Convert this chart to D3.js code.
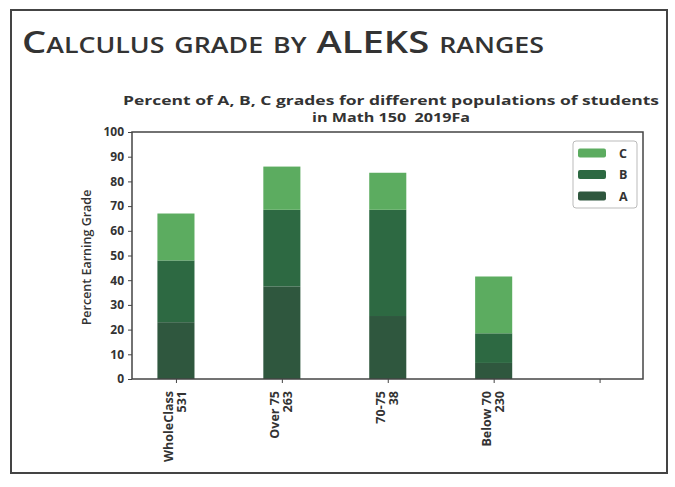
<!DOCTYPE html>
<html>
<head>
<meta charset="utf-8">
<script src="https://cdn.jsdelivr.net/npm/d3@7"></script>
<style>
  body { margin: 0; background: #fff; }
  svg text { fill: #333; }
</style>
</head>
<body>
<div id="chart"></div>
<script>
// data
const groups = ["WholeClass\n531", "Over 75\n263", "70-75\n38", "Below 70\n230", ""];
const gradeA = [23, 37.5, 25.5, 6.5, 0];
const gradeB = [25, 31, 43, 12, 0];
const gradeC = [19, 17.5, 15, 23, 0];
const yTicks = [0, 10, 20, 30, 40, 50, 60, 70, 80, 90, 100];
const grades = ["A", "B", "C"];
const colors = { A: "#2f573e", B: "#2d6942", C: "#5cac60" };

const width = 675, height = 487;
const plot = { left: 132, right: 643, top: 132, bottom: 379 };
const sans = "'Open Sans', 'DejaVu Sans', sans-serif";

let svg = d3.select("#chart").append("svg")
    .attr("width", width)
    .attr("height", height)

// outer slide frame
svg.append("rect")
    .attr("x", 11).attr("y", 10)
    .attr("width", 656).attr("height", 463)
    .attr("fill", "none")
    .attr("stroke", "#444")
    .attr("stroke-width", 2)

// slide title
svg.append("text")
    .attr("x", 22).attr("y", 53)
    .style("font-family", sans)
    .style("font-variant", "small-caps")
    .style("font-size", "30px")
    .style("font-weight", "600")
    .attr("textLength", 522)
    .attr("lengthAdjust", "spacingAndGlyphs")
    .text("Calculus grade by ALEKS ranges")

// chart title
const titleLines = ["Percent of A, B, C grades for different populations of students", "in Math 150\u00a0\u00a02019Fa"];
const titleWidths = [536, 158];
svg.append("g").selectAll("text")
    .data(titleLines)
    .enter()
    .append("text")
    .attr("x", 391)
    .attr("y", (d, i) => 105 + i * 17)
    .attr("text-anchor", "middle")
    .attr("textLength", (d, i) => titleWidths[i])
    .attr("lengthAdjust", "spacingAndGlyphs")
    .style("font-family", sans)
    .style("font-size", "12.5px")
    .style("font-weight", "bold")
    .text(d => d)

let x = d3.scaleLinear().domain([-0.415, 4.41]).range([plot.left, plot.right]);
let y = d3.scaleLinear().domain([0, 100]).range([plot.bottom, plot.top]);
const barW = x(0.35) - x(0);

// stack the series
const rows = groups.map((g, i) => ({ i: i, A: gradeA[i], B: gradeB[i], C: gradeC[i] }));
const stacked = d3.stack().keys(grades)(rows);

svg.append("g").selectAll("g")
    .data(stacked)
    .enter()
    .append("g")
    .attr("fill", d => colors[d.key])
    .selectAll("rect")
    .data(d => d)
    .enter()
    .append("rect")
    .attr("x", d => x(d.data.i) - barW / 2)
    .attr("width", barW)
    .attr("y", d => y(d[1]))
    .attr("height", d => y(d[0]) - y(d[1]))

// y axis
let yAxis = svg.append("g")
    .attr("transform", `translate(${plot.left},0)`)
    .call(d3.axisLeft(y).tickValues(yTicks).tickSize(4).tickPadding(4))
yAxis.select(".domain").remove()
yAxis.selectAll("text")
    .style("font-family", sans)
    .style("font-size", "12px")
    .style("font-weight", "bold")
    .attr("fill", "#333")
yAxis.selectAll("line").attr("stroke", "#444")

// x axis
let xAxis = svg.append("g")
    .attr("transform", `translate(0,${plot.bottom})`)
    .call(d3.axisBottom(x).tickValues(d3.range(groups.length)).tickSize(4).tickFormat(""))
xAxis.select(".domain").remove()
xAxis.selectAll("line").attr("stroke", "#444")

// rotated two-line category labels
groups.forEach((g, i) => {
  const lines = g.split("\n");
  const t = svg.append("text")
      .attr("transform", `translate(${x(i)},${plot.bottom + 12}) rotate(-90)`)
      .attr("text-anchor", "end")
      .style("font-family", sans)
      .style("font-size", "12.5px")
      .style("font-weight", "bold")
  lines.forEach((l, j) => {
    t.append("tspan")
      .attr("x", 0)
      .attr("y", (j - (lines.length - 1) / 2) * 13 + 4)
      .text(l)
  })
})

// plot frame
svg.append("rect")
    .attr("x", plot.left).attr("y", plot.top)
    .attr("width", plot.right - plot.left)
    .attr("height", plot.bottom - plot.top)
    .attr("fill", "none")
    .attr("stroke", "#444")
    .attr("stroke-width", 1.5)

// y axis label
svg.append("text")
    .attr("transform", `translate(91,${(plot.top + plot.bottom) / 2 + 2}) rotate(-90)`)
    .attr("text-anchor", "middle")
    .style("font-family", sans)
    .style("font-size", "12.5px")
    .style("font-weight", "600")
    .text("Percent Earning Grade")

// legend
let legend = svg.append("g").attr("transform", "translate(573,141)")
legend.append("rect")
    .attr("width", 64).attr("height", 67)
    .attr("rx", 3)
    .attr("fill", "#fff")
    .attr("stroke", "#bbb")
const legendKeys = grades.slice().reverse();
legend.selectAll("g.item")
    .data(legendKeys)
    .enter()
    .append("g")
    .attr("class", "item")
    .attr("transform", (d, i) => `translate(0,${12 + i * 21.5})`)
    .each(function(d) {
      let it = d3.select(this);
      it.append("rect")
        .attr("x", 5).attr("y", -4.5)
        .attr("width", 28).attr("height", 9)
        .attr("rx", 2)
        .attr("fill", colors[d])
      it.append("text")
        .attr("x", 46).attr("y", 4.5)
        .style("font-family", sans)
        .style("font-size", "12.5px")
        .style("font-weight", "bold")
        .text(d)
    })
</script>
</body>
</html>
